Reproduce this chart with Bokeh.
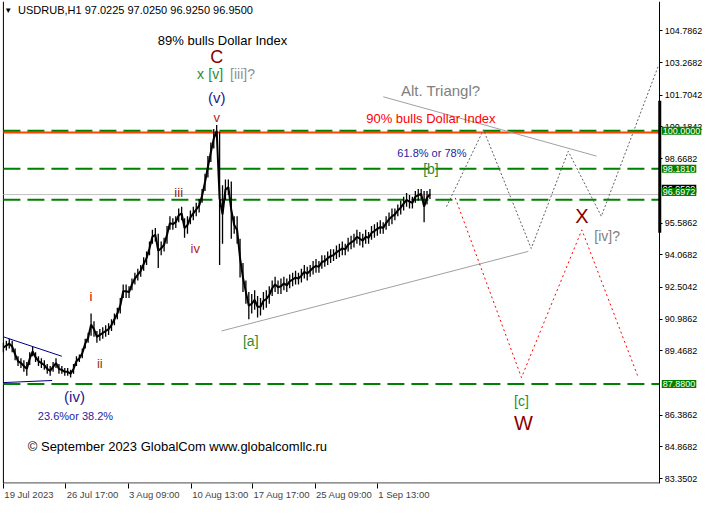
from bokeh.plotting import figure
from bokeh.models import Range1d, FixedTicker, NumeralTickFormatter, Label, LinearAxis
from bokeh.embed import file_html
from bokeh.resources import INLINE

# ---------------- data ----------------
bar_no = list(range(0, 441, 3))  # H1 bar numbers (every 3rd bar sampled)

high = [89.86, 89.95, 90.05, 89.95, 89.58, 89.21, 89.12, 89.02, 88.93, 89.40, 89.67, 89.40, 89.21, 89.12, 89.02, 88.84,
        88.74, 88.93, 89.12, 88.84, 88.74, 88.65, 88.65, 88.56, 88.84, 89.21, 89.30, 89.58, 90.05, 90.33, 91.26,
        90.88, 90.42, 90.51, 90.60, 90.70, 90.79, 90.98, 91.26, 91.53, 92.00, 92.65, 92.65, 92.56, 92.93, 93.21, 93.40,
        93.58, 93.95, 94.23, 94.70, 95.26, 95.35,
        95.07, 94.70, 94.88, 95.44, 95.91, 95.81, 95.91, 96.28, 96.37, 95.81, 95.91, 96.19, 96.37, 96.56, 96.74, 97.21,
        97.95, 98.79, 99.44, 100.09, 100.28,
        99.95, 97.40, 97.67, 97.67, 97.58, 95.91, 95.91, 94.84, 93.67, 92.84, 92.28, 92.19, 92.37, 92.09, 92.00, 92.28,
        92.37, 92.56,
        92.84, 93.02, 92.84, 92.93, 93.02, 92.93, 93.12, 93.21, 93.30, 93.21, 93.40, 93.58, 93.49, 93.58, 93.77, 93.86,
        93.77, 94.05, 94.05, 94.23, 94.33, 94.33, 94.51, 94.60, 94.70, 94.60, 94.88, 94.98, 95.07, 95.26, 95.16, 95.07,
        95.26, 95.16, 95.44, 95.53, 95.63, 95.72, 95.63, 95.91, 96.09, 96.28, 96.28, 96.47, 96.65, 96.84, 97.02, 96.93,
        96.84, 97.12, 97.21, 97.21, 97.12, 97.12, 97.21]

low = [89.40, 89.49, 89.58, 89.40, 89.02, 88.74, 88.65, 88.47, 88.28, 88.79, 89.21, 88.93, 88.74, 88.65, 88.56, 88.37,
       88.28, 88.47, 88.65, 88.37, 88.37, 88.28, 88.28, 88.19, 88.37, 88.74, 88.93, 89.12, 89.58, 89.86, 90.19,
       90.14, 89.86, 89.95, 90.05, 90.14, 90.23, 90.42, 90.70, 90.98, 91.26, 92.00, 92.00, 92.00, 92.37, 92.65, 92.84,
       93.02, 93.30, 93.58, 94.05, 94.60, 94.70,
       93.44, 94.05, 94.23, 94.60, 95.26, 95.26, 95.35, 95.63, 95.72, 94.88, 95.07, 95.53, 95.72, 95.91, 96.09, 96.56,
       97.12, 97.77, 98.51, 99.16, 99.72,
       93.58, 94.60, 96.70, 96.93, 94.84, 95.07, 94.60, 92.98, 92.28, 91.72, 90.98, 91.26, 91.44, 91.07, 91.16, 91.44,
       91.53, 91.72,
       92.09, 92.28, 92.19, 92.19, 92.37, 92.28, 92.47, 92.56, 92.65, 92.65, 92.74, 92.93, 92.84, 93.02, 93.12, 93.21,
       93.21, 93.40, 93.49, 93.58, 93.67, 93.77, 93.86, 93.95, 94.05, 94.05, 94.23, 94.33, 94.42, 94.60, 94.51, 94.42,
       94.60, 94.60, 94.79, 94.88, 94.98, 95.07, 95.07, 95.26, 95.44, 95.53, 95.72, 95.91, 96.00, 96.19, 96.37, 96.28,
       96.28, 96.56, 96.65, 96.74, 95.63, 96.47, 96.74]

n = min(len(bar_no), len(high), len(low))
bar_no, high, low = bar_no[:n], high[:n], low[:n]

# horizontal levels
level_green = [100.0, 98.181, 96.6972, 87.88]
level_orange = 99.92
bid_price = 96.95

# wave / pattern lines (bar number, price)
tri_upper_x, tri_upper_y = [0, 60], [90.14, 89.21]
tri_lower_x, tri_lower_y = [0, 50], [87.95, 88.05]
alt_low_x, alt_low_y = [224, 539], [90.42, 94.23]
alt_up_x, alt_up_y = [390, 609], [101.63, 98.79]
proj_gray_x = [455, 493, 542, 580, 614, 673]
proj_gray_y = [96.37, 100.05, 94.37, 99.02, 95.91, 103.16]
proj_red_x = [464, 532, 594, 652]
proj_red_y = [96.79, 88.19, 95.26, 88.19]
range_bar_y = [101.44, 95.12]

y_ticks = [83.3502, 84.8682, 86.3862, 89.4682, 90.9862, 92.5042, 94.0682, 95.5862,
           98.6682, 100.1842, 101.7042, 103.2682, 104.7862]
x_tick_bars = [0, 64, 128, 193, 256, 320, 384]
x_tick_labels = ["19 Jul 2023", "26 Jul 17:00", "3 Aug 09:00", "10 Aug 13:00",
                 "17 Aug 17:00", "25 Aug 09:00", "1 Sep 13:00"]
axis_price_labels = [(97.23, "96.9500", "black"), (100.0, "100.0000", "#008000"),
                     (98.181, "98.1810", "#008000"), (97.07, "96.6972", "#008000"),
                     (87.88, "87.8800", "#008000")]

# ---------------- figure ----------------
FONT = "Liberation Sans"
X0, X1 = -3, 722          # visible span (incl. the price-scale strip)
AX = 674                  # right edge of the chart area, where the price scale sits
Y0, Y1 = 83.12, 106.19
p = figure(width=706, height=502, x_range=Range1d(X0, X1), y_range=Range1d(Y0, Y1),
           output_backend="svg", toolbar_location=None, y_axis_location="right",
           min_border_left=0, min_border_top=1, min_border_right=0, min_border_bottom=1)
p.background_fill_color = "white"
p.border_fill_color = "white"
p.outline_line_color = None
p.xgrid.visible = False
p.ygrid.visible = False

ya = p.yaxis[0]
ya.fixed_location = AX
ya.ticker = FixedTicker(ticks=y_ticks)
ya.formatter = NumeralTickFormatter(format="0.0000")
ya.major_label_text_font = FONT
ya.major_label_text_font_size = "9px"
ya.major_label_text_color = "black"
ya.major_tick_in = 0
ya.major_tick_out = 3
ya.minor_tick_out = 0
ya.minor_tick_in = 0
ya.axis_line_color = "black"
ya.axis_line_width = 1
ya.major_label_standoff = 2

# tick marks (labels are set on a second axis so that they start at the tick, like MT4)
xa = p.xaxis[0]
xa.ticker = FixedTicker(ticks=x_tick_bars)
xa.major_label_overrides = {t: "" for t in x_tick_bars}
xa.major_label_text_font_size = "1px"
xa.major_label_standoff = 0
xa.major_tick_in = 0
xa.major_tick_out = 5
xa.minor_tick_out = 0
xa.minor_tick_in = 0
xa.axis_line_color = None

half_px = [24.0, 25.2, 25.0, 27.6, 27.6, 27.6, 25.0]   # half text widths at 9.5px
centers = [round(t + 1.5 + h * 1.03, 1) for t, h in zip(x_tick_bars, half_px)]
xl = LinearAxis(ticker=FixedTicker(ticks=centers),
                major_label_overrides={c: s for c, s in zip(centers, x_tick_labels)},
                major_label_text_font=FONT, major_label_text_font_size="9.5px",
                major_tick_in=0, major_tick_out=0, minor_tick_in=0, minor_tick_out=0,
                axis_line_color=None, major_label_standoff=0)
p.add_layout(xl, "below")

# chart border (left and bottom)
p.line([0, 0], [Y0, Y1], color="black", line_width=1)
p.line([0, AX], [Y0 + 0.02, Y0 + 0.02], color="black", line_width=1)

# levels
p.line([0, AX], [level_orange, level_orange], color="#FF4500", line_width=2)
p.line([0, AX], [bid_price, bid_price], color="#C0C0C0", line_width=1)
for lv in level_green:
    p.line([0, AX], [lv, lv], color="#008000", line_width=2, line_dash="17 7")

# pattern lines
p.line(tri_upper_x, tri_upper_y, color="#000080", line_width=1)
p.line(tri_lower_x, tri_lower_y, color="#000080", line_width=1)
p.line(alt_low_x, alt_low_y, color="#A0A0A0", line_width=1)
p.line(alt_up_x, alt_up_y, color="#A0A0A0", line_width=1)
p.line(proj_gray_x, proj_gray_y, color="#606060", line_width=1, line_dash="2 2")
p.line(proj_red_x, proj_red_y, color="#FF0000", line_width=1, line_dash="2 3")

# price bars
mid = [(h + l) / 2 for h, l in zip(high, low)]
p.segment(x0=bar_no, y0=low, x1=bar_no, y1=high, color="black", line_width=1.3)
p.line(bar_no, mid, color="black", line_width=2)

# range bar on the price scale
p.segment(x0=[AX], y0=[range_bar_y[1]], x1=[AX], y1=[range_bar_y[0]], color="black", line_width=3)


def txt(x, y, s, color="black", size=13, align="center", font=FONT, baseline="middle"):
    p.add_layout(Label(x=x, y=y, text=s, text_color=color, text_font_size=f"{size}px",
                       text_align=align, text_baseline=baseline, text_font=font))


txt(5, 105.77, "\u25BC", size=8, align="center")
txt(15, 105.77, "USDRUB,H1  97.0225 97.0250 96.9250 96.9500", size=11, align="left")
txt(225, 104.33, "89% bulls Dollar Index", size=13)
txt(219, 103.53, "C", color="#8B0000", size=18)
txt(202.5, 102.74, "x", color="#2E8B2E", size=14)
txt(218, 102.74, "[v]", color="#2E8B2E", size=14)
txt(245.5, 102.74, "[iii]?", color="#909090", size=14)
txt(219, 101.58, "(v)", color="#1A1A8C", size=15)
txt(219, 100.65, "v", color="#B22222", size=13)
txt(180, 97.07, "iii", color="#8B1A1A", size=13)
txt(197, 94.37, "iv", color="#B22222", size=13)
txt(90, 92.05, "i", color="#C00000", size=13)
txt(99, 88.88, "ii", color="#8B3A1A", size=13)
txt(73, 87.30, "(iv)", color="#1A1A8C", size=15)
txt(74, 86.37, "23.6%or 38.2%", color="#1E1EA0", size=11)
txt(254, 89.95, "[a]", color="#2E8B2E", size=14)
txt(449, 101.91, "Alt. Triangl?", color="#808080", size=15)
txt(439, 100.61, "90% bulls Dollar Index", color="#FF0000", size=13)
txt(440, 98.93, "61.8% or 78%", color="#1E1EA0", size=11)
txt(439, 98.19, "[b]", color="#2E8B2E", size=14)
txt(594, 95.91, "X", color="#8B0000", size=20)
txt(620, 94.98, "[iv]?", color="#808080", size=14)
txt(532, 87.07, "[c]", color="#2E8B2E", size=14)
txt(534, 86.00, "W", color="#8B0000", size=20)
txt(25, 84.88, "\u00A9 September 2023 GlobalCom www.globalcomllc.ru", size=13, align="left")

# price labels on the price scale
for yv, s, bg in axis_price_labels:
    p.add_layout(Label(x=AX, y=yv, x_offset=2, text=s, text_color="white", text_font_size="9px",
                       text_font=FONT, text_align="left", text_baseline="middle",
                       background_fill_color=bg, padding=1))

open("out.html", "w").write(file_html(p, INLINE))
